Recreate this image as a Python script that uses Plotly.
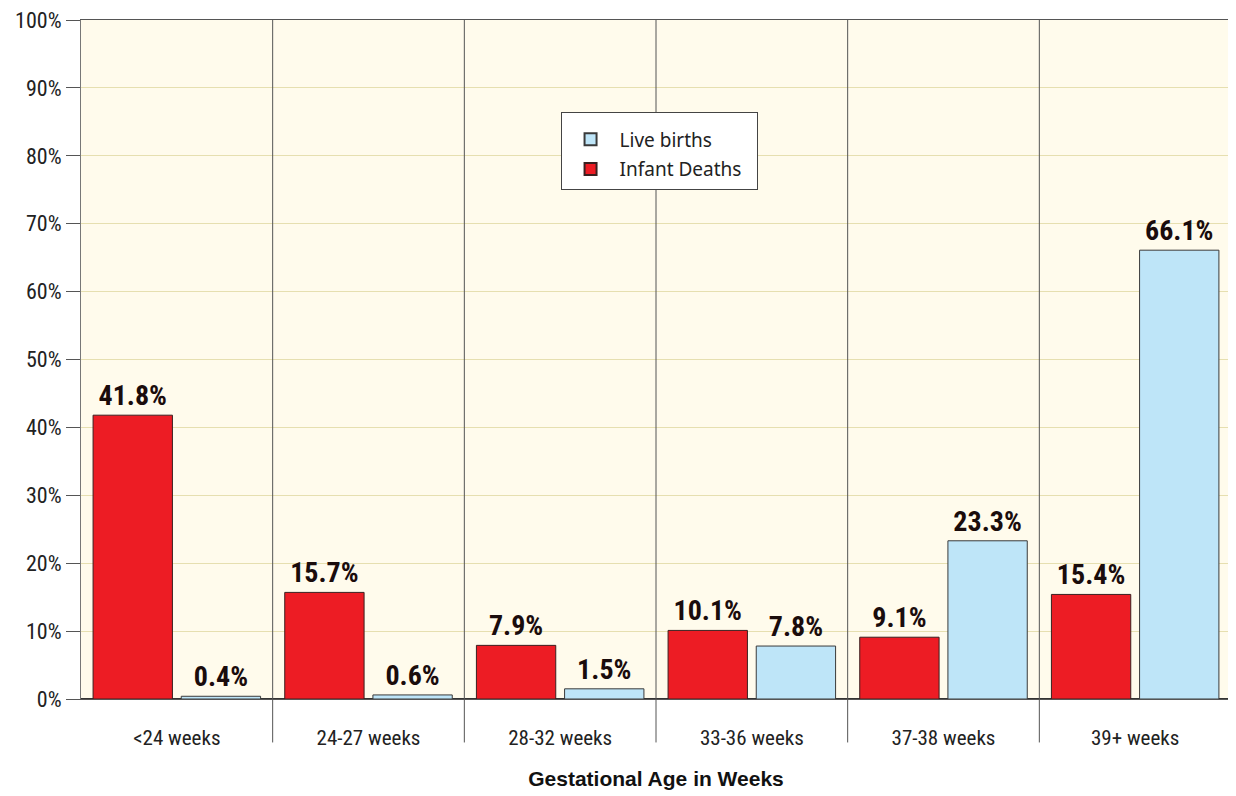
import plotly.graph_objects as go

categories = ["<24 weeks", "24-27 weeks", "28-32 weeks", "33-36 weeks", "37-38 weeks", "39+ weeks"]
infant_deaths = [41.8, 15.7, 7.9, 10.1, 9.1, 15.4]
live_births = [0.4, 0.6, 1.5, 7.8, 23.3, 66.1]
y_ticks = list(range(0, 101, 10))
y_tick_labels = [f"{v}%" for v in y_ticks]

COND = "Liberation Sans Narrow, Roboto Condensed, DejaVu Sans Condensed, Arial Narrow, sans-serif"
PAD = "\u00a0\u00a0"

fig = go.Figure()
fig.add_trace(go.Bar(
    x=categories, y=infant_deaths, name="Infant Deaths" + PAD, legendgroup="deaths",
    legendrank=2,
    marker=dict(color="#ed1c24", line=dict(color="#3a2020", width=1)),
    text=[f"{v}%" for v in infant_deaths], textposition="outside",
    textfont=dict(family=COND, size=28, color="#1a0c0c", weight="bold"),
    cliponaxis=False,
))
fig.add_trace(go.Bar(
    x=categories, y=live_births, name="Live births", legendgroup="births",
    legendrank=1,
    marker=dict(color="#bee5f8", line=dict(color="#3a3a3a", width=1)),
    text=[f"{v}%" for v in live_births], textposition="outside",
    textfont=dict(family=COND, size=28, color="#1a0c0c", weight="bold"),
    cliponaxis=False,
))

shapes = []
for i in range(1, len(categories)):
    shapes.append(dict(type="line", xref="x", yref="paper", x0=i - 0.5, x1=i - 0.5,
                       y0=-0.064, y1=1, line=dict(color="#555555", width=1)))

fig.update_layout(
    width=1228, height=788,
    margin=dict(l=73, r=5, t=12, b=97),
    paper_bgcolor="white",
    plot_bgcolor="#fffbec",
    barmode="group",
    bargap=0.08,
    bargroupgap=0.1,
    showlegend=True,
    legend=dict(
        x=0.417, y=0.865, xanchor="left", yanchor="top",
        bgcolor="white", bordercolor="#444444", borderwidth=1,
        font=dict(family="Noto Sans, Open Sans, sans-serif", size=19, color="#222222"),
        traceorder="grouped", itemsizing="constant", itemwidth=48,
        tracegroupgap=2,
        title=dict(text="\u00a0", font=dict(size=6)),
    ),
    shapes=shapes,
    xaxis=dict(
        showgrid=False, showline=True, linecolor="#555555", linewidth=1, mirror=True,
        ticks="", tickfont=dict(family=COND, size=21, color="#222222"),
        ticklabelstandoff=20, automargin=False,
        title=dict(text="<b>Gestational Age in Weeks</b>",
                   font=dict(family="Liberation Sans, Arial, sans-serif", size=21, color="#111111"),
                   standoff=22),
        fixedrange=True,
    ),
    yaxis=dict(
        range=[0, 100], tickvals=y_ticks, ticktext=y_tick_labels,
        showgrid=True, gridcolor="#e6dfb0", gridwidth=1,
        showline=True, linecolor="#777777", linewidth=1, mirror=True,
        ticks="outside", ticklen=14, tickcolor="#555555",
        tickfont=dict(family=COND, size=22, color="#222222"),
        zeroline=True, zerolinecolor="#333333", zerolinewidth=2,
        fixedrange=True, automargin=False, ticklabeloverflow="allow",
    ),
)

fig.write_html("out.html")
